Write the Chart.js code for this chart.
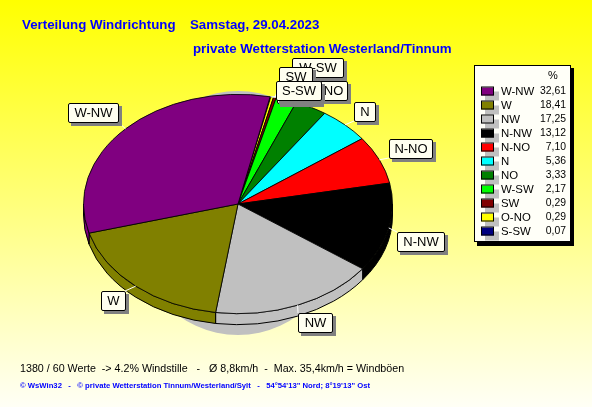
<!DOCTYPE html>
<html><head><meta charset="utf-8">
<script src="https://cdn.jsdelivr.net/npm/chart.js@4"></script>
<style>html,body{margin:0;padding:0;background:#fff}canvas{display:block}</style>
</head><body><canvas id="c" width="592" height="407" style="width:592px;height:407px"></canvas>
<script>
const directions = ['W-NW','W','NW','N-NW','N-NO','N','NO','W-SW','SW','O-NO','S-SW'];
const percents   = [32.61,18.41,17.25,13.12,7.10,5.36,3.33,2.17,0.29,0.29,0.07];
const colors     = ['#800080','#808000','#C0C0C0','#000000','#FF0000','#00FFFF','#008000','#00FF00','#800000','#FFFF00','#000080'];
const titleLine1 = 'Verteilung Windrichtung';
const titleLine1b = 'Samstag, 29.04.2023';
const titleLine2 = 'private Wetterstation Westerland/Tinnum';
const footLine1  = '1380 / 60 Werte  -> 4.2% Windstille   -   Ø 8,8km/h  -  Max. 35,4km/h = Windböen';
const footLine2  = '© WsWin32   -   © private Wetterstation Tinnum/Westerland/Sylt   -   54°54\'13" Nord; 8°19\'13" Ost';
const labelOrder = ['W-NW','W','NW','N-NW','N-NO','N','W-SW','NO','SW','O-NO','S-SW'];
const labelBoxes = {
  'W-NW':[68,103,50,19],'W':[101,291,24,19],'NW':[298,313,34,19],'N-NW':[397,232,47,19],
  'N-NO':[389,139,43,19],'N':[354,102,21,19],'W-SW':[292,58,51,19],'NO':[319,81,28,19],
  'SW':[279,67,33,19],'O-NO':[277,84,43,19],'S-SW':[276,81,45,19]
};
const SQUASH = 110/155, DEPTH = 11;

function boxPath(ctx,x,y,w,h){ctx.beginPath();ctx.roundRect(x+.5,y+.5,w,h,1.5);}

const piePlugin = {
  id:'pie3d',
  beforeDraw(chart){
    const ctx=chart.ctx, g=ctx.createLinearGradient(0,0,0,407);
    g.addColorStop(0,'#FFFF00');g.addColorStop(1,'#FFFFF6');
    ctx.save();ctx.fillStyle=g;ctx.fillRect(0,0,592,407);ctx.restore();
  },
  beforeDatasetsDraw(chart){
    const ctx=chart.ctx, arcs=chart.getDatasetMeta(0).data, a0=arcs[0];
    const cx=a0.x, cy=a0.y, rx=a0.outerRadius, ry=rx*SQUASH;
    ctx.save();
    ctx.fillStyle='#C0C0C0';
    ctx.beginPath();ctx.ellipse(cx,cy+9,110,122,0,0,Math.PI*2);ctx.fill();
    ctx.lineWidth=1;ctx.strokeStyle='#000';
    arcs.forEach((a,i)=>{
      const tau=Math.PI*2;
      let s=((a.startAngle%tau)+tau)%tau, e=s+(a.endAngle-a.startAngle);
      [[s,e],[s-tau,e-tau]].forEach(([p,q])=>{
        const from=Math.max(p,0), to=Math.min(q,Math.PI);
        if(to<=from) return;
        ctx.beginPath();
        ctx.ellipse(cx,cy,rx,ry,0,from,to);
        ctx.ellipse(cx,cy+DEPTH,rx,ry,0,to,from,true);
        ctx.closePath();
        ctx.fillStyle=a.options.backgroundColor;ctx.fill();ctx.stroke();
      });
    });
    ctx.restore();
    ctx.save();
    ctx.translate(cx,cy);ctx.scale(1,SQUASH);ctx.translate(-cx,-cy);
  },
  afterDatasetsDraw(chart){
    const ctx=chart.ctx;
    ctx.restore();
    const arcs=chart.getDatasetMeta(0).data, a0=arcs[0];
    const cx=a0.x, cy=a0.y, rx=a0.outerRadius, ry=rx*SQUASH;
    const order=chart.data.labels;
    ctx.save();
    ctx.strokeStyle='#fff';ctx.lineWidth=1;
    labelOrder.forEach(name=>{
      const a=arcs[order.indexOf(name)], mid=(a.startAngle+a.endAngle)/2, b=labelBoxes[name];
      const px=cx+rx*Math.cos(mid), py=cy+ry*Math.sin(mid);
      const qx=Math.min(Math.max(px,b[0]),b[0]+b[2]), qy=Math.min(Math.max(py,b[1]),b[1]+b[3]);
      ctx.beginPath();ctx.moveTo(px,py);ctx.lineTo(qx,qy);ctx.stroke();
    });
    ctx.textAlign='center';ctx.textBaseline='middle';ctx.font='13px "Liberation Sans"';
    labelOrder.forEach(name=>{
      const [x,y,w,h]=labelBoxes[name];
      ctx.fillStyle='#808080';ctx.fillRect(x+3,y+3,w+1,h+1);
      boxPath(ctx,x,y,w,h);ctx.fillStyle='#FFFFF0';ctx.fill();ctx.strokeStyle='#000';ctx.stroke();
      ctx.fillStyle='#000';ctx.fillText(name,x+w/2+.5,y+h/2+1);
    });
    ctx.fillStyle='#000';ctx.fillRect(477,68,97,178);
    ctx.fillStyle='#FFFFF8';ctx.fillRect(474,65,97,177);
    ctx.strokeStyle='#000';ctx.strokeRect(474.5,65.5,96,176);
    ctx.textBaseline='middle';
    ctx.font='11px "Liberation Sans"';
    ctx.fillStyle='#000';ctx.textAlign='center';ctx.fillText('%',553,75.5);
    directions.forEach((d,i)=>{
      const y=91.5+i*14;
      ctx.fillStyle='#C0C0C0';ctx.fillRect(485,y,14,9);
      ctx.fillStyle=colors[i];ctx.fillRect(481,y-4,13,8);
      ctx.strokeStyle='#000';ctx.strokeRect(481.5,y-4.5,12,8);
      ctx.fillStyle='#000';ctx.textAlign='left';ctx.font='11.4px "Liberation Sans"';ctx.fillText(d,501,y);
      ctx.textAlign='right';ctx.font='10.4px "Liberation Sans"';ctx.fillText(percents[i].toFixed(2).replace('.',','),566,y);
    });
    ctx.textAlign='left';ctx.textBaseline='middle';ctx.fillStyle='#0000FF';
    ctx.font='bold 13.3px "Liberation Sans"';
    ctx.fillText(titleLine1,22,25);
    ctx.fillText(titleLine1b,190,25);
    ctx.fillText(titleLine2,193,49);
    ctx.fillStyle='#000';ctx.font='10.7px "Liberation Sans"';
    ctx.fillText(footLine1,20,369);
    ctx.fillStyle='#0000FF';ctx.font='bold 7.7px "Liberation Sans"';
    ctx.fillText(footLine2,20,386);
    ctx.restore();
  }
};

new Chart(document.getElementById('c'),{
  type:'pie',
  data:{
    labels:[...directions].reverse(),
    datasets:[{data:[...percents].reverse(),backgroundColor:[...colors].reverse(),borderColor:'#000',borderWidth:1,clip:false}]
  },
  options:{
    responsive:false,animation:false,rotation:12,
    layout:{padding:{left:83,right:199,top:49,bottom:48}},
    plugins:{legend:{display:false},title:{display:false},tooltip:{enabled:false}},
    events:[]
  },
  plugins:[piePlugin]
});
</script></body></html>
